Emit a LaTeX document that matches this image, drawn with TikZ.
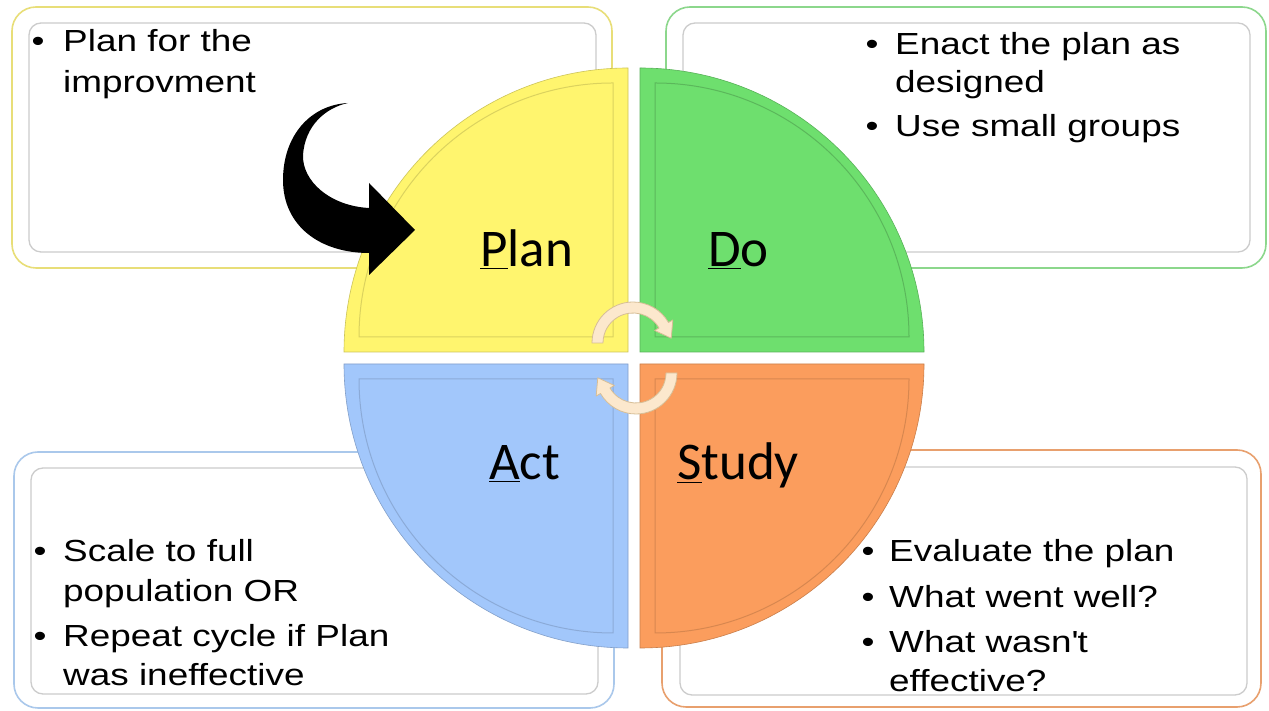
\documentclass[tikz,border=0pt]{standalone}
\usepackage{fontspec}
\newfontfamily\boxfont[FakeStretch=1.21]{Liberation Sans}
\newfontfamily\lblfont{Carlito}
\definecolor{qyel}{RGB}{255,245,110}
\definecolor{qgrn}{RGB}{110,223,110}
\definecolor{qblu}{RGB}{162,199,251}
\definecolor{qorg}{RGB}{251,157,93}
\definecolor{byel}{RGB}{232,222,120}
\definecolor{bgrn}{RGB}{140,215,140}
\definecolor{bblu}{RGB}{170,200,235}
\definecolor{borg}{RGB}{232,160,110}
\definecolor{cream}{RGB}{252,232,205}
\definecolor{tan}{RGB}{215,190,150}
\tikzset{
  outerbox/.style={line width=1.6pt, fill=white, rounded corners=24pt},
  innerbox/.style={draw=black!20, line width=1.3pt, fill=white, rounded corners=12pt},
  boxtxt/.style={font=\boxfont\fontsize{30.5}{36}\selectfont, anchor=base west, inner sep=0pt},
  bul/.style={font=\boxfont\fontsize{30.5}{36}\selectfont, anchor=base, inner sep=0pt},
  lbl/.style={font=\lblfont\fontsize{53}{60}\selectfont, anchor=base west, inner sep=0pt},
  cyclearrow/.style={fill=cream, draw=tan, line width=0.8pt, line join=round},
  bevel/.style={line width=1pt, opacity=0.7}
}
\begin{document}
\begin{tikzpicture}[x=1pt,y=1pt]
\useasboundingbox (0,0) rectangle (1269,711);
\fill[white] (0,0) rectangle (1269,711);

% text boxes
\draw[outerbox, draw=byel] (12,443) rectangle (612,704);
\draw[innerbox] (29,459) rectangle (596,688);
\draw[outerbox, draw=bgrn] (666,443) rectangle (1266,704);
\draw[innerbox] (683,459) rectangle (1250,688);
\draw[outerbox, draw=bblu] (14,3) rectangle (614,259);
\draw[innerbox] (31,17) rectangle (598,243);
\draw[outerbox, draw=borg] (662,4) rectangle (1261,261);
\draw[innerbox] (680,16) rectangle (1247,244);

% quadrants
\filldraw[fill=qyel, draw=qyel!80!black, line width=0.6pt] (628,359) -- (344,359) arc (180:90:284) -- cycle;
\draw[bevel, qyel!80!black] (613,374) -- (359,374) arc (180:90:254) -- cycle;
\filldraw[fill=qgrn, draw=qgrn!80!black, line width=0.6pt] (640,359) -- (640,643) arc (90:0:284) -- cycle;
\draw[bevel, qgrn!75!black] (655,374) -- (655,628) arc (90:0:254) -- cycle;
\filldraw[fill=qblu, draw=qblu!80!black, line width=0.6pt] (628,347) -- (344,347) arc (180:270:284) -- cycle;
\draw[bevel, qblu!80!black] (613,332) -- (359,332) arc (180:270:254) -- cycle;
\filldraw[fill=qorg, draw=qorg!80!black, line width=0.6pt] (640,347) -- (924,347) arc (0:-90:284) -- cycle;
\draw[bevel, qorg!80!black] (655,332) -- (909,332) arc (0:-90:254) -- cycle;

% cycle arrows
\coordinate (uc) at (633,368);
\coordinate (lc) at (636,338);
\path[cyclearrow] ([shift={(uc)}]180:41) arc (180:30:41) -- ([shift={(uc)}]30:46)
  -- ([shift={(uc)}]38.2,4.8) -- ([shift={(uc)}]30:25) -- ([shift={(uc)}]30:30)
  arc (30:180:30) -- cycle;
\path[cyclearrow] ([shift={(lc)}]0:41) arc (0:-150:41) -- ([shift={(lc)}]-150:46)
  -- ([shift={(lc)}]-38.2,-4.8) -- ([shift={(lc)}]-150:25) -- ([shift={(lc)}]-150:30)
  arc (-150:0:30) -- cycle;

% quadrant labels
\node[lbl] (plan) at (480,444) {\underline{P}lan};
\node[lbl] (do) at (708,444) {\underline{D}o};
\node[lbl] (act) at (489,231) {\underline{A}ct};
\node[lbl] (study) at (677,231) {\underline{S}tudy};

% box texts
\node[bul] (b1) at (38,659) {•};
\node[boxtxt] (t1a) at (63,659) {Plan for the};
\node[boxtxt] (t1b) at (63,618) {improvment};

\node[bul] (b2) at (872,656) {•};
\node[boxtxt] (t2a) at (895,656) {Enact the plan as};
\node[boxtxt] (t2b) at (895,618) {designed};
\node[bul] (b3) at (872,574) {•};
\node[boxtxt] (t2c) at (895,574) {Use small groups};

\node[bul] (b4) at (40,149) {•};
\node[boxtxt] (t3a) at (63,149) {Scale to full};
\node[boxtxt] (t3b) at (63,109) {population OR};
\node[bul] (b5) at (40,64) {•};
\node[boxtxt] (t3c) at (63,64) {Repeat cycle if Plan};
\node[boxtxt] (t3d) at (63,25) {was ineffective};

\node[bul] (b6) at (868,149) {•};
\node[boxtxt] (t4a) at (889,149) {Evaluate the plan};
\node[bul] (b7) at (868,103) {•};
\node[boxtxt] (t4b) at (889,103) {What went well?};
\node[bul] (b8) at (868,58) {•};
\node[boxtxt] (t4c) at (889,58) {What wasn\textquotesingle t};
\node[boxtxt] (t4d) at (889,19) {effective?};

% black curved arrow
\fill[black] (348,608) .. controls (310,606) and (283,575) .. (283,531)
  .. controls (283,485) and (320,458) .. (369,458)
  -- (369,436) -- (415,481) -- (369,528) -- (369,503)
  .. controls (330,505) and (302,530) .. (303,556)
  .. controls (305,585) and (325,603) .. (348,608) -- cycle;
\end{tikzpicture}
\end{document}
